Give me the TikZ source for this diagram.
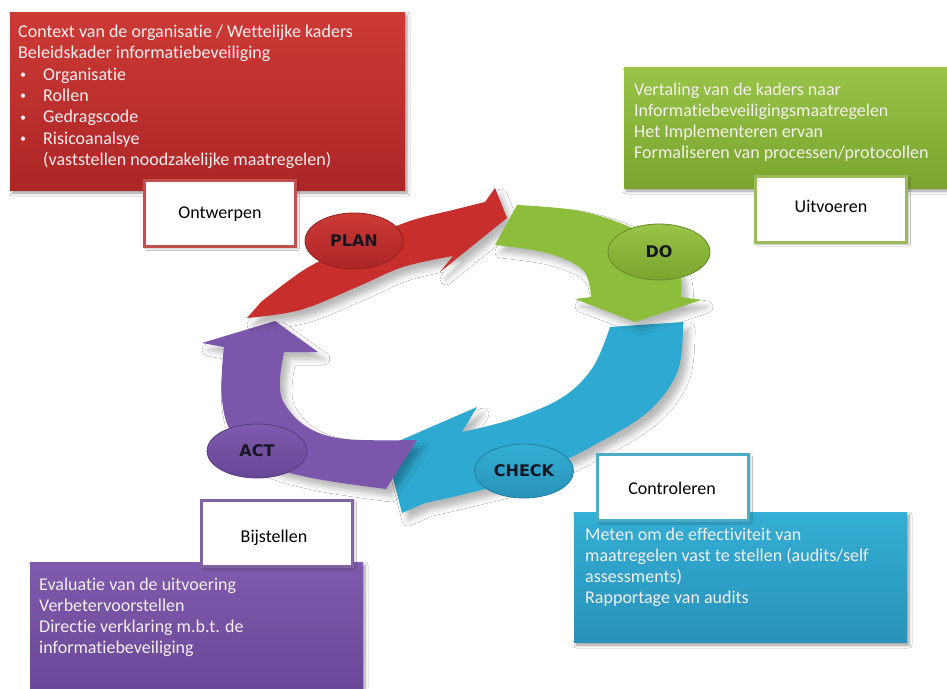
\documentclass[tikz,border=0pt]{standalone}
\usepackage{fontspec}
\setmainfont[Ligatures=CommonOff]{Carlito}
\newfontfamily\ellfont{DejaVu Sans}
\usetikzlibrary{shapes.geometric,shadows.blur}
\definecolor{redT}{RGB}{204,58,54}
\definecolor{redB}{RGB}{172,38,38}
\definecolor{grnT}{RGB}{152,196,72}
\definecolor{grnB}{RGB}{122,164,46}
\definecolor{bluT}{RGB}{52,174,212}
\definecolor{bluB}{RGB}{40,146,186}
\definecolor{purT}{RGB}{128,90,172}
\definecolor{purB}{RGB}{104,70,150}
\definecolor{redA}{RGB}{200,46,44}
\definecolor{grnA}{RGB}{140,190,60}
\definecolor{bluA}{RGB}{46,170,210}
\definecolor{purA}{RGB}{124,86,170}
\definecolor{redL}{RGB}{192,80,77}
\definecolor{grnL}{RGB}{155,187,89}
\definecolor{bluL}{RGB}{75,172,198}
\definecolor{purL}{RGB}{128,100,162}
\definecolor{boxtext}{RGB}{245,238,238}
\definecolor{elltext}{RGB}{22,22,32}
\newcommand\txtlines[1]{\vtop{\baselineskip=21.3pt\lineskiplimit=-30pt\lineskip=0pt\halign{##\hfil\cr#1\crcr}}}
\newcommand\bul[1]{\hbox to 25pt{\hspace{2pt}\raisebox{1.5pt}{\fontsize{12}{12}\selectfont\textbullet}\hfil}#1}
\tikzset{
  bigbox/.style={rectangle, inner sep=0, draw=none,
    blur shadow={shadow xshift=2pt, shadow yshift=-3pt, shadow blur radius=3pt, shadow opacity=40}},
  tagbox/.style={rectangle, inner sep=0, fill=white, line width=3pt,
    minimum width=151, minimum height=66,
    blur shadow={shadow xshift=2pt, shadow yshift=-2pt, shadow blur radius=2pt, shadow opacity=30}},
  boxtxt/.style={anchor=base west, inner sep=0, text=boxtext, font=\fontsize{18}{21.3}\selectfont},
  tagtxt/.style={anchor=base, inner sep=0, text=black, font=\fontsize{18}{21.3}\selectfont},
  cyc/.style={blur shadow={shadow xshift=6pt, shadow yshift=-7pt, shadow blur radius=6pt, shadow opacity=28}},
  ell/.style={ellipse, inner sep=0, line width=0.8pt, text=elltext,
    font=\ellfont\bfseries\fontsize{16}{19}\selectfont},
}
\begin{document}
\begin{tikzpicture}[x=1pt, y=-1pt]
\useasboundingbox (0,0) rectangle (947,688);
\fill[white] (0,0) rectangle (947,688);

% big boxes
\node[bigbox, top color=redT, bottom color=redB, minimum width=395, minimum height=178] (planbox) at (207.5,101) {};
\node[bigbox, top color=grnT, bottom color=grnB, minimum width=325, minimum height=121] (dobox) at (786.5,127.5) {};
\node[bigbox, top color=bluT, bottom color=bluB, minimum width=333, minimum height=130] (checkbox) at (740.5,577) {};
\node[bigbox, top color=purT, bottom color=purB, minimum width=333, minimum height=140] (actbox) at (196.5,632) {};

\node[boxtxt] (plantxt) at (18,37.5) {\txtlines{Context van de organisatie / Wettelijke kaders\cr
Beleidskader informatiebeveiliging\cr
\bul{Organisatie}\cr
\bul{Rollen}\cr
\bul{Gedragscode}\cr
\bul{Risicoanalsye}\cr
\hspace{25pt}(vaststellen noodzakelijke maatregelen)\cr}};
\node[boxtxt] (dotxt) at (634,95) {\txtlines{Vertaling van de kaders naar\cr
Informatiebeveiligingsmaatregelen\cr
Het Implementeren ervan\cr
Formaliseren van processen/protocollen\cr}};
\node[boxtxt] (checktxt) at (585,540) {\txtlines{Meten om de effectiviteit van\cr
maatregelen vast te stellen (audits/self\cr
assessments)\cr
Rapportage van audits\cr}};
\node[boxtxt] (acttxt) at (39,590) {\txtlines{Evaluatie van de uitvoering\cr
Verbetervoorstellen\cr
Directie verklaring m.b.t. de\cr
informatiebeveiliging\cr}};

% cycle arrows
\fill[bluA, cyc] (610,327) -- (683,322) -- plot[smooth, tension=0.6] coordinates {(683,322) (678,370) (650,410) (600,442) (530,476) (465,494) (425,503)}
  -- (402,513) -- (385,447) -- (477,407) -- (462,432)
  -- plot[smooth, tension=0.6] coordinates {(462,432) (513,419) (563,397) (593,367) (610,327)} -- cycle;
\fill[purA, cyc] (417,440) -- (386,489) -- plot[smooth, tension=0.6] coordinates {(386,489) (307,477) (255,460) (230,430) (222,400) (222,370) (224,347)}
  -- (202,343) -- (275,321) -- (318,352) -- (284,352)
  -- plot[smooth, tension=0.6] coordinates {(284,352) (280,380) (284,403) (307,427) (345,439) (417,440)} -- cycle;
\fill[redA, cyc] (247,318) -- (261,302) -- plot[smooth, tension=0.6] coordinates {(261,302) (307,268) (355,245) (407,222) (457,209) (485,202)}
  -- (495,188) -- (507,218) -- (440,272) -- (453,256)
  -- plot[smooth, tension=0.6] coordinates {(453,256) (403,267) (357,287) (300,310) (247,318)} -- cycle;
\fill[grnA, cyc] (517,205) -- plot[smooth, tension=0.6] coordinates {(517,205) (580,211) (632,228) (668,252) (680,275) (681,297)}
  -- (701,300) -- (635,322) -- (575,299) -- (591,297)
  -- plot[smooth, tension=0.6] coordinates {(591,297) (583,270) (547,253) (495,245)} -- cycle;

% ellipses
\node[ell, top color=redT, bottom color=redB, draw=redB!85!black, minimum width=98, minimum height=56] (plan) at (354,241) {PLAN};
\node[ell, top color=grnT, bottom color=grnB, draw=grnB!85!black, minimum width=102, minimum height=56] (do) at (659,252) {DO};
\node[ell, top color=bluT, bottom color=bluB, draw=bluB!85!black, minimum width=99, minimum height=54] (check) at (524,471) {CHECK};
\node[ell, top color=purT, bottom color=purB, draw=purB!85!black, minimum width=100, minimum height=54] (act) at (257,451) {ACT};

% tag boxes
\node[tagbox, draw=redL] (ontbox) at (220,213.5) {};
\node[tagbox, draw=grnL] (uitbox) at (831,209) {};
\node[tagbox, draw=bluL] (conbox) at (673,487.5) {};
\node[tagbox, draw=purL] (bijbox) at (277,533.5) {};
\node[tagtxt] (ont) at (220,218) {Ontwerpen};
\node[tagtxt] (uit) at (831,212) {Uitvoeren};
\node[tagtxt] (con) at (672,494) {Controleren};
\node[tagtxt] (bij) at (274,542) {Bijstellen};
\end{tikzpicture}
\end{document}
